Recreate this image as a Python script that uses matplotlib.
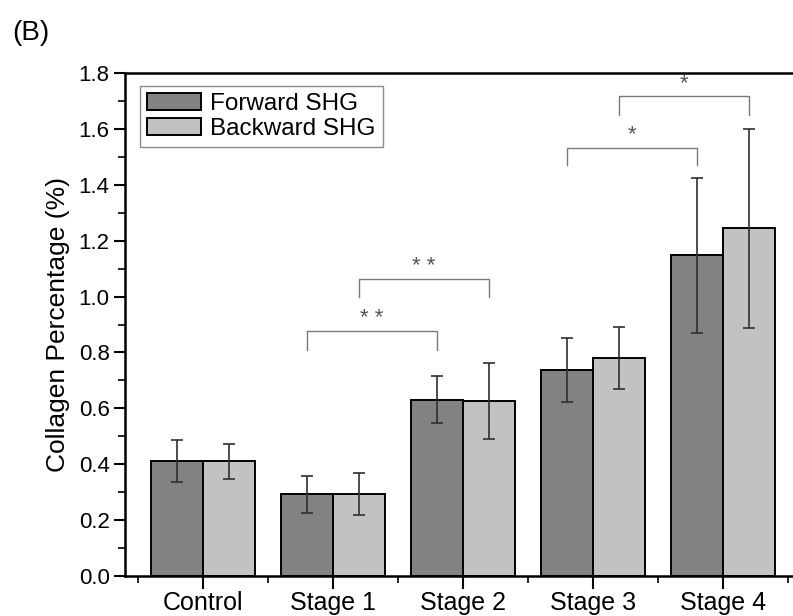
"""
Collagen percentage bar chart, forward vs backward SHG.
"""

import numpy as np
import matplotlib
matplotlib.use("Agg")
import matplotlib.pyplot as plt
from matplotlib.ticker import MultipleLocator, FixedLocator, FormatStrFormatter

categories = ["Control", "Stage 1", "Stage 2", "Stage 3", "Stage 4"]
forward_mean = [0.41, 0.293, 0.630, 0.737, 1.148]
forward_err = [0.075, 0.066, 0.084, 0.115, 0.278]
backward_mean = [0.41, 0.293, 0.627, 0.780, 1.244]
backward_err = [0.062, 0.076, 0.137, 0.112, 0.357]

# significance brackets: (left x, right x, bar top y, leg bottom y, label)
brackets = [
    (1.8, 2.8, 0.877, 0.809, "* *"),
    (2.2, 3.2, 1.063, 0.997, "* *"),
    (3.8, 4.8, 1.533, 1.469, "*"),
    (4.2, 5.2, 1.716, 1.650, "*"),
]

plt.rcParams["font.family"] = ["Liberation Sans", "DejaVu Sans"]

fig = plt.figure(figsize=(7.93, 6.16), dpi=100)
ax = fig.add_axes([0.1576, 0.0649, 0.8525, 0.8166])

x = np.arange(1, len(categories) + 1)
w = 0.4
ax.bar(x - w / 2, forward_mean, w, color="#828282", edgecolor="black",
       linewidth=1.4, label="Forward SHG", zorder=2)
ax.bar(x + w / 2, backward_mean, w, color="#c2c2c2", edgecolor="black",
       linewidth=1.4, label="Backward SHG", zorder=2)
ax.errorbar(x - w / 2, forward_mean, yerr=forward_err, fmt="none",
            ecolor="#303030", elinewidth=1.2, capsize=4, capthick=1.2, zorder=3)
ax.errorbar(x + w / 2, backward_mean, yerr=backward_err, fmt="none",
            ecolor="#303030", elinewidth=1.2, capsize=4, capthick=1.2, zorder=3)

for x0, x1, ytop, ybot, lab in brackets:
    ax.plot([x0, x0, x1, x1], [ybot, ytop, ytop, ybot], color="#7a7a7a",
            linewidth=1.0, zorder=1)
    ax.text((x0 + x1) / 2, ytop + 0.008, lab, ha="center", va="bottom",
            fontsize=16, color="#555555")

ax.set_xlim(0.4, 5.6)
ax.set_ylim(0, 1.8)
ax.set_xticks(x)
ax.set_xticklabels(categories, fontsize=18)
ax.xaxis.set_minor_locator(FixedLocator(np.arange(0.5, 6.0, 1.0)))
ax.yaxis.set_major_locator(MultipleLocator(0.2))
ax.yaxis.set_minor_locator(MultipleLocator(0.1))
ax.yaxis.set_major_formatter(FormatStrFormatter("%.1f"))
ax.tick_params(axis="y", labelsize=16, direction="out", length=8, width=1.5, pad=3)
ax.tick_params(axis="x", direction="out", length=9, width=1.5, pad=1.5)
ax.tick_params(which="minor", direction="out", length=5, width=1.2)
ax.set_ylabel("Collagen Percentage (%)", fontsize=19, labelpad=6)

for s in ["left", "bottom", "top", "right"]:
    ax.spines[s].set_linewidth(1.8)

leg = ax.legend(loc="upper left", bbox_to_anchor=(0.022, 0.974), borderaxespad=0,
                fontsize=17.5, fancybox=False, edgecolor="#707070",
                handlelength=2.2, handleheight=0.7, handletextpad=0.4,
                labelspacing=0.1, borderpad=0.3)
leg.get_frame().set_linewidth(1.0)

fig.text(0.015, 0.946, "(B)", fontsize=20, ha="left", va="center")

fig.savefig("out.png", dpi=100)
